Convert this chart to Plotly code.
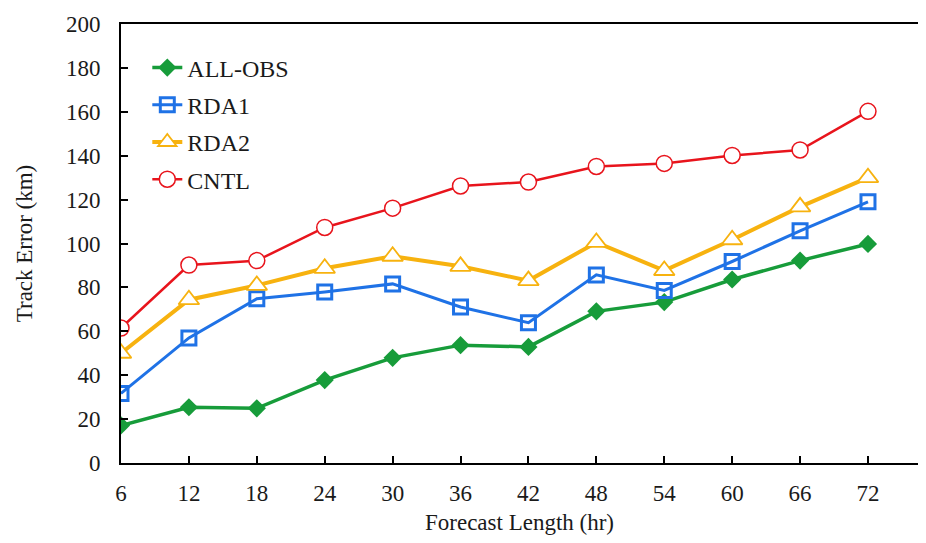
import plotly.graph_objects as go

hours = [6, 12, 18, 24, 30, 36, 42, 48, 54, 60, 66, 72]
all_obs = [17.1, 25.4, 24.9, 37.8, 47.9, 53.7, 52.9, 69.1, 73.3, 83.6, 92.2, 99.8]
rda1 = [31.7, 57.0, 74.8, 77.9, 81.6, 71.1, 63.9, 85.7, 78.6, 91.8, 105.8, 119.0]
rda2 = [50.0, 74.4, 80.9, 88.7, 94.2, 89.6, 83.1, 100.5, 87.7, 101.7, 116.7, 130.0]
cntl = [61.5, 90.2, 92.2, 107.3, 116.1, 126.2, 128.0, 135.1, 136.5, 140.1, 142.6, 160.2]
y_ticks = [0, 20, 40, 60, 80, 100, 120, 140, 160, 180, 200]

FONT = "Liberation Serif, Times New Roman, serif"
TXT = "#1a1a1a"

fig = go.Figure()
fig.add_trace(go.Scatter(x=hours, y=all_obs, name="ALL-OBS", legendgroup="a", mode="lines+markers",
                         line=dict(color="#179C3A", width=3.5),
                         marker=dict(symbol="diamond", size=14, color="#179C3A")))
fig.add_trace(go.Scatter(x=hours, y=rda1, name="RDA1", legendgroup="b", mode="lines+markers",
                         line=dict(color="#1F72E6", width=3),
                         marker=dict(symbol="square-open", size=14, color="#1F72E6",
                                     line=dict(width=3, color="#1F72E6"))))
fig.add_trace(go.Scatter(x=hours, y=rda2, name="RDA2", legendgroup="c", mode="lines+markers",
                         line=dict(color="#F7B20F", width=4),
                         marker=dict(symbol="triangle-up", size=18, color="white",
                                     line=dict(width=1.8, color="#F7B20F"))))
fig.add_trace(go.Scatter(x=hours, y=cntl, name="CNTL", legendgroup="d", mode="lines+markers",
                         line=dict(color="#E8141C", width=2.5),
                         marker=dict(symbol="circle", size=16, color="white",
                                     line=dict(width=1.5, color="#E8141C"))))

fig.update_layout(
    autosize=True,
    margin=dict(l=113, r=0, t=16, b=70),
    paper_bgcolor="white", plot_bgcolor="white",
    font=dict(family=FONT, size=24, color=TXT),
    showlegend=True,
    legend=dict(x=0.033, y=0.951, xanchor="left", yanchor="top",
                font=dict(family=FONT, size=24, color=TXT),
                bgcolor="rgba(0,0,0,0)", itemwidth=30, tracegroupgap=3),
    xaxis=dict(range=[6, 76.42], tickmode="array", tickvals=hours,
               ticktext=[str(h) for h in hours],
               showline=True, linecolor="black", linewidth=2, mirror=True,
               ticks="inside", ticklen=7, tickwidth=1.5, tickcolor="black",
               showgrid=False, zeroline=False, ticklabelstandoff=8,
               title=dict(text="Forecast Length (hr)", font=dict(family=FONT, size=23, color=TXT), standoff=13),
               tickfont=dict(family=FONT, size=23, color=TXT)),
    yaxis=dict(range=[0, 200], tickmode="array", tickvals=y_ticks,
               showline=True, linecolor="black", linewidth=2, mirror=False,
               ticks="inside", ticklen=7, tickwidth=1.5, tickcolor="black",
               showgrid=False, zeroline=False, ticklabelstandoff=14,
               title=dict(text="Track Error (km)", font=dict(family=FONT, size=23, color=TXT), standoff=27),
               tickfont=dict(family=FONT, size=23, color=TXT)),
)

fig.write_html("out.html")
